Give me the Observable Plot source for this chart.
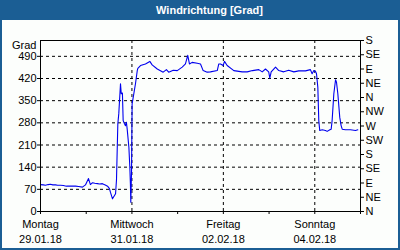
<!DOCTYPE html>
<html><head><meta charset="utf-8">
<script src="https://cdn.jsdelivr.net/npm/d3@7"></script>
<script src="https://cdn.jsdelivr.net/npm/@observablehq/plot@0.6"></script>
<style>
html,body{margin:0;padding:0;background:#fff;}
#card{width:400px;height:250px;background:#1b5e94;box-sizing:border-box;padding:0 2px 2px 2px;font-family:"Liberation Sans",Arial,sans-serif;}
#title{height:20px;line-height:20px;color:#fff;font-weight:bold;font-size:11px;text-align:center;padding-left:19px;}
#chart{background:#fcfefc;height:228px;overflow:hidden;}
#chart svg{display:block;}
</style></head><body>
<div id="card"><div id="title">Windrichtung [Grad]</div><div id="chart"></div></div>
<script>
// hours since Montag 29.01.18 00:00
const hours = [0,1.5,2.6,4,5.2,6.5,7.9,9,10.5,12,13.6,16,18.4,20,22,23.6,25.2,26.2,27.3,28.5,29.9,31,32.5,34,35.2,36.2,36.7,37.8,39.4,39.9,40.6,41.1,42,42.4,43,43.4,44.1,44.6,45.1,45.5,46.4,46.9,47.2,47.4,47.8,48.1,49,49.9,50.8,51.1,52.5,55.1,57.4,58.6,61.3,64.4,66.1,67.3,69.7,71.8,74.4,76.1,77.3,78.2,79.6,82.3,84,85.4,87.5,89.2,92.8,93.6,94.5,95.9,96.6,98,101.5,105.9,108.5,111.3,114.6,116.4,118.1,119.8,120.4,121.1,123.4,125.1,127.7,130.3,133,135.6,139.1,141.7,142.6,143.5,144.4,144.9,145.6,146.1,146.6,147.9,149.6,150.5,151.9,152.6,153.1,154,154.9,155.4,156.1,157.1,157.8,158.4,160.1,162.7,165.4,166.6];
const values = [85,84,83,85,86,84,84,83,83,82,80,80,80,79,77,84,104,85,91,89,88,87,88,84,80,72,61,40,56,100,277,309,403,372,374,287,277,271,282,261,203,140,87,29,129,340,372,405,445,452,461,466,474,463,450,440,448,440,446,445,456,466,493,466,471,468,466,445,440,441,445,466,466,461,474,461,445,441,441,445,448,441,450,441,421,441,456,445,441,446,441,444,444,448,435,445,442,435,392,287,256,258,256,253,258,260,287,372,416,408,372,298,272,260,258,258,256,258];

const leftTicks = [0,70,140,210,280,350,420,490];
const gridY = [70,140,210,280,350,420,490];
const rightTicks = [0,45,90,135,180,225,270,315,360,405,450,495,540];
const dirLabels = ["N","NE","E","SE","S","SW","W","NW","N","NE","E","SE","S"];
const dayTicks = [0,24,48,72,96,120,144,168];
const labelTicks = [0,48,96,144];
const gridX = [48,96,144];
const dayNames = ["Montag","Mittwoch","Freitag","Sonntag"];
const dates = ["29.01.18","31.01.18","02.02.18","04.02.18"];

const data = hours.map((h,i)=>({h, v: values[i]}));

const plot = Plot.plot({
  width: 396, height: 228,
  marginLeft: 38, marginRight: 38, marginTop: 20, marginBottom: 37,
  style: {fontFamily: "Liberation Sans, Arial, sans-serif", fontSize: "11px", background: "transparent", color: "black", overflow: "visible"},
  x: {domain: [0,168]},
  y: {domain: [0,540]},
  marks: [
    Plot.ruleY(gridY, {stroke: "black", strokeDasharray: "3,3"}),
    Plot.ruleX(gridX, {stroke: "black", strokeDasharray: "3,3"}),
    Plot.line(data, {x: "h", y: "v", stroke: "#0000ee", strokeWidth: 1.1}),
    Plot.frame({stroke: "black"}),
    Plot.axisY(leftTicks, {anchor: "left", tickSize: 3, tickPadding: 1, label: null, fill: "black"}),
    Plot.axisY(rightTicks, {anchor: "right", tickSize: 3, tickPadding: 2, label: null, fill: "black", tickFormat: d => dirLabels[rightTicks.indexOf(d)]}),
    Plot.axisX(dayTicks, {anchor: "bottom", tickSize: 3, tickFormat: () => "", label: null}),
    Plot.axisX(labelTicks, {anchor: "bottom", tickSize: 0, tickPadding: 9, label: null, fill: "black", tickFormat: d => dayNames[labelTicks.indexOf(d)]}),
    Plot.axisX(labelTicks, {anchor: "bottom", tickSize: 0, tickPadding: 24, label: null, fill: "black", tickFormat: d => dates[labelTicks.indexOf(d)]}),
    Plot.text(["Grad"], {frameAnchor: "top-left", text: d => d, dx: -4, dy: 1, textAnchor: "end", fill: "black"})
  ]
});
document.getElementById("chart").appendChild(plot);
</script>
</body></html>
